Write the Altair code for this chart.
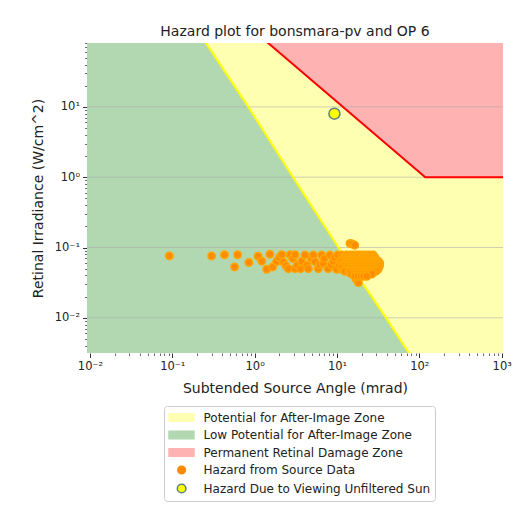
import altair as alt
import pandas as pd

# ---------------- text ----------------
TITLE = "Hazard plot for bonsmara-pv and OP 6"
X_TITLE = "Subtended Source Angle (mrad)"
Y_TITLE = "Retinal Irradiance (W/cm^2)"

# ---------------- axes ----------------
X_DOMAIN = [0.0092, 1037.0]
Y_DOMAIN = [0.00316, 81.0]
X_MAJOR = [0.01, 0.1, 1, 10, 100, 1000]
X_MAJOR_LABELS = ["10⁻²", "10⁻¹", "10⁰", "10¹", "10²", "10³"]
Y_MAJOR = [0.01, 0.1, 1, 10]
Y_MAJOR_LABELS = ["10⁻²", "10⁻¹", "10⁰", "10¹"]
X_DECADES = [0.001, 0.01, 0.1, 1, 10, 100, 1000]
Y_DECADES = [0.001, 0.01, 0.1, 1, 10]
MINOR_STEPS = [2, 3, 4, 5, 6, 7, 8, 9]

# ---------------- zone boundaries ----------------
AFTERIMAGE_E = [90, 10, 1, 0.1, 0.01, 0.003]
AFTERIMAGE_W = [0.241, 0.836, 2.92, 10.4, 39.4, 77]
BURN_W = [1.3, 118, 1100]
BURN_E = [90.8, 1, 1]

# ---------------- sun ----------------
SUN_W = [9.3]
SUN_E = [8.0]

# ---------------- source data ----------------
SPARSE_W = [0.092, 0.30, 0.43, 0.57, 0.62, 0.85, 1.10, 1.22, 1.40, 1.53, 1.66, 1.85,
            2.0, 2.13, 2.23, 2.4, 2.56, 2.7, 2.9, 3.09, 3.09, 3.3, 3.6, 3.72, 4.08,
            4.3, 4.48, 4.9, 5.15, 5.4, 5.93, 6.2, 6.5, 6.8, 7.0, 7.8, 8.2, 8.5, 9.0,
            9.3, 9.9, 10.2, 10.6, 11.0, 11.4, 13.1, 15.1, 14.4, 15.4, 16.4, 17.2, 18.2]
SPARSE_E = [0.076, 0.076, 0.079, 0.053, 0.079, 0.061, 0.075, 0.064, 0.049, 0.080, 0.053, 0.063,
            0.072, 0.079, 0.062, 0.055, 0.050, 0.079, 0.070, 0.050, 0.079, 0.056, 0.050, 0.063, 0.078,
            0.056, 0.050, 0.070, 0.078, 0.063, 0.050, 0.057, 0.078, 0.059, 0.070, 0.050, 0.078, 0.057, 0.063,
            0.072, 0.049, 0.078, 0.056, 0.063, 0.049, 0.048, 0.044, 0.114, 0.112, 0.108, 0.035, 0.0316]
BLOB_E = [0.078, 0.074, 0.070, 0.066, 0.063, 0.060, 0.057, 0.054, 0.051, 0.048, 0.046,
          0.044, 0.042, 0.039]
BLOB_W = [
    [11.5, 13, 14.5, 16, 17.5, 19, 21, 23, 25, 27.5],
    [12.2, 13.8, 15.2, 16.8, 18.5, 20, 22, 24, 26.5, 28.5],
    [12, 13.5, 15, 16.5, 18, 20, 22, 24, 26.5, 29],
    [11.8, 13.2, 14.8, 16.2, 17.8, 19.5, 21.5, 23.5, 25.5, 28, 30.5],
    [11.5, 13, 14.5, 16, 17.5, 19, 21, 23, 25, 27.5, 30, 32],
    [12.2, 13.8, 15.2, 16.8, 18.5, 20, 22, 24, 26, 28.5, 31, 33],
    [12, 13.5, 15, 16.5, 18, 20, 22, 24, 26.5, 29, 31.5, 33],
    [11.8, 13.2, 14.8, 16.2, 17.8, 19.5, 21.5, 23.5, 25.5, 28, 30.5, 32.5],
    [11.5, 13, 14.5, 16, 17.5, 19, 21, 23, 25, 27.5, 30, 32],
    [12.2, 13.8, 15.2, 16.8, 18.5, 20, 22, 24, 26, 28.5, 31],
    [12.5, 14, 15.5, 17, 18.5, 20.5, 22.5, 24.5, 27, 29.5],
    [14.2, 15.8, 17.2, 19, 21, 23, 25, 27.5],
    [15, 16.5, 18, 20, 22, 24, 26.5],
    [16.5, 18, 19.5, 21, 23],
]

# ---------------- legend ----------------
LEGEND_LABELS = ["Potential for After-Image Zone", "Low Potential for After-Image Zone",
                 "Permanent Retinal Damage Zone", "Hazard from Source Data",
                 "Hazard Due to Viewing Unfiltered Sun"]
YELLOW_FILL = "#ffffb2"
GREEN_FILL = "#b2d8b2"
RED_FILL = "#ffb2b2"
ORANGE_FILL = "#ff8c00"
ORANGE_EDGE = "#ffa500"
SUN_FILL = "#ffff00"
SUN_EDGE = "#5f7e8a"
LEGEND_FILLS = [YELLOW_FILL, GREEN_FILL, RED_FILL, ORANGE_FILL, SUN_FILL]
LEGEND_STROKES = [YELLOW_FILL, GREEN_FILL, RED_FILL, ORANGE_FILL, SUN_EDGE]
RECT_PATH = "M-1.08,-0.64H3.08V0.64H-1.08Z"
DOT_PATH = "M0.38,0A0.64,0.64,0,1,0,1.66,0A0.64,0.64,0,1,0,0.38,0Z"
SUN_PATH = "M0.3,0A0.72,0.72,0,1,0,1.74,0A0.72,0.72,0,1,0,0.3,0Z"
LEGEND_SHAPES = [RECT_PATH, RECT_PATH, RECT_PATH, DOT_PATH, SUN_PATH]

# ---------------- tables ----------------
afterimage_df = pd.DataFrame({"w": AFTERIMAGE_W, "e": AFTERIMAGE_E})
burn_df = pd.DataFrame({"w": BURN_W, "e": BURN_E})
sun_df = pd.DataFrame({"w": SUN_W, "e": SUN_E})
rows_w, rows_e = list(SPARSE_W), list(SPARSE_E)
for e_val, ws in zip(BLOB_E, BLOB_W):
    rows_w += ws
    rows_e += [e_val] * len(ws)
src_df = pd.DataFrame({"w": rows_w, "e": rows_e})
grid_df = pd.DataFrame({"v": Y_MAJOR})
legend_df = pd.DataFrame({"label": LEGEND_LABELS})
one_df = pd.DataFrame({"k": [0]})


def minor_ticks(decades, lo, hi):
    vals = []
    for d in decades:
        vals += [d * s for s in MINOR_STEPS]
    return [round(v, 10) for v in vals if lo <= v <= hi]


def label_expr(vals, labels):
    return "".join(f"datum.value == {v} ? '{l}' : " for v, l in zip(vals, labels)) + "''"


def major_axis(title, orient, majors, labels, title_pad):
    return alt.Axis(
        title=title, orient=orient, values=majors, labelExpr=label_expr(majors, labels),
        ticks=True, tickSize=4.5, tickWidth=1, tickColor="#333333", domain=False, grid=False,
        labelFontSize=11.5, labelColor="#222222", labelPadding=3,
        labelOverlap=False, labelFlush=False,
        titleFontSize=14, titleFontWeight="normal", titleColor="#222222",
        titlePadding=title_pad,
    )


def minor_axis(orient, ticks):
    return alt.Axis(title=None, orient=orient, values=ticks, labels=False, ticks=True, tickSize=2.5,
                    tickWidth=0.8, tickColor="#444444", domain=False, grid=False)


XS = alt.Scale(type="log", domain=X_DOMAIN, nice=False)
YS = alt.Scale(type="log", domain=Y_DOMAIN, nice=False)
X_MAJ = major_axis(X_TITLE, "bottom", X_MAJOR, X_MAJOR_LABELS, 9)
Y_MAJ = major_axis(Y_TITLE, "left", Y_MAJOR, Y_MAJOR_LABELS, 9)
X_MIN = minor_axis("bottom", minor_ticks(X_DECADES, X_DOMAIN[0], X_DOMAIN[1]))
Y_MIN = minor_axis("left", minor_ticks(Y_DECADES, Y_DOMAIN[0], Y_DOMAIN[1]))


def xq(f, axis=None):
    return alt.X(f"{f}:Q", scale=XS, axis=axis)


def yq(f, axis=None):
    return alt.Y(f"{f}:Q", scale=YS, axis=axis)


yellow = alt.Chart(one_df).mark_rect(color=YELLOW_FILL, opacity=1).encode(
    x=alt.XDatum(X_DOMAIN[0], type="quantitative", scale=XS, axis=None),
    x2=alt.X2Datum(X_DOMAIN[1]),
    y=alt.YDatum(Y_DOMAIN[0], type="quantitative", scale=YS, axis=None),
    y2=alt.Y2Datum(Y_DOMAIN[1]))
green = alt.Chart(afterimage_df).mark_area(orient="horizontal", clip=True, color=GREEN_FILL, opacity=1).encode(
    x=xq("w", X_MAJ), x2=alt.X2(datum=X_DOMAIN[0]), y=yq("e", Y_MAJ))
red = alt.Chart(burn_df).mark_area(clip=True, color=RED_FILL, opacity=1).encode(
    x=xq("w"), y=yq("e"), y2=alt.Y2(datum=Y_DOMAIN[1]))
grid = alt.Chart(grid_df).mark_rule(color="#a8a8a8", strokeWidth=0.8, opacity=0.7).encode(y=yq("v"))
yline = alt.Chart(afterimage_df).mark_line(clip=True, color="#ffff00", strokeWidth=2).encode(
    x=xq("w", X_MIN), y=yq("e", Y_MIN))
rline = alt.Chart(burn_df).mark_line(clip=True, color="#ff0000", strokeWidth=2).encode(x=xq("w"), y=yq("e"))
pts = alt.Chart(src_df).mark_point(filled=True, fill=ORANGE_FILL, stroke=ORANGE_EDGE, strokeWidth=1.5,
                                   size=56, opacity=1, clip=True).encode(x=xq("w"), y=yq("e"))
sun = alt.Chart(sun_df).mark_point(filled=True, fill=SUN_FILL, stroke=SUN_EDGE, strokeWidth=1.5,
                                   size=121, opacity=1).encode(x=xq("w"), y=yq("e"))

LEG = alt.Legend(title=None, orient="none", legendX=77, legendY=363, symbolSize=144,
                 labelFontSize=12, labelColor="#222222", labelOffset=21, labelLimit=400,
                 rowPadding=3.5, padding=4.5, strokeColor="#cccccc", fillColor="white",
                 cornerRadius=3, symbolStrokeWidth=1.5)
legend_layer = alt.Chart(legend_df).mark_point(filled=True, size=0, opacity=1, strokeWidth=1.5).encode(
    color=alt.Color("label:N", scale=alt.Scale(domain=LEGEND_LABELS, range=LEGEND_FILLS), legend=LEG),
    shape=alt.Shape("label:N", scale=alt.Scale(domain=LEGEND_LABELS, range=LEGEND_SHAPES), legend=LEG),
    stroke=alt.Stroke("label:N", scale=alt.Scale(domain=LEGEND_LABELS, range=LEGEND_STROKES), legend=LEG),
)

chart = alt.layer(yellow, green, red, grid, yline, rline, pts, sun, legend_layer).resolve_axis(
    x="independent", y="independent"
).properties(
    width=416, height=310,
    autosize=alt.AutoSizeParams(type="none"),
    padding={"left": 87, "top": 43, "right": 17, "bottom": 157},
    title=alt.Title(TITLE, fontSize=14, fontWeight="normal", color="#222222", frame="group",
                    anchor="middle", offset=5, dy=1),
    background="white",
).configure(font="DejaVu Sans").configure_view(strokeWidth=0)

chart.save("out.html", embed_options={"renderer": "svg", "actions": False})
